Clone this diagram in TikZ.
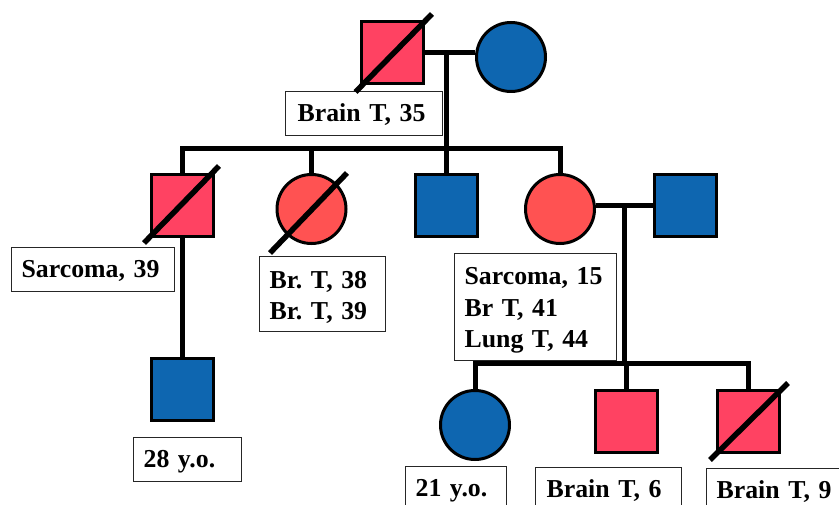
\documentclass[tikz,border=0pt]{standalone}
\usepackage{fontspec}
\setmainfont{Liberation Serif}
\definecolor{malesick}{RGB}{255,66,98}
\definecolor{femsick}{RGB}{255,82,82}
\definecolor{healthy}{RGB}{14,102,176}
\frenchspacing

\begin{document}
\begin{tikzpicture}[x=1pt,y=-1pt,
  conn/.style={line width=5pt},
  slash/.style={line width=5.5pt},
  male/.style={rectangle, draw, line width=3pt, minimum size=62pt, inner sep=0pt},
  female/.style={circle, draw, line width=3pt, minimum size=69pt, inner sep=0pt},
  note/.style={rectangle, draw=black!85, line width=1.2pt, fill=white,
    anchor=north west, inner xsep=10pt, inner ysep=0pt, align=left,
    font=\fontsize{25.8}{31.5}\selectfont\bfseries},
  oneline/.style={note, text height=19.5pt, text depth=4.5pt, minimum height=44pt}
]
\useasboundingbox (0,0) rectangle (839,505);
\clip (0,0) rectangle (839,505);

% generation I
\node[male, fill=malesick] (f1) at (392.5,52.5) {};
\node[female, fill=healthy] (m1) at (511,57) {};

% generation II
\node[male, fill=malesick] (s1) at (182,205.5) {};
\node[female, fill=femsick] (c2) at (311.5,209) {};
\node[male, fill=healthy] (s3) at (446,205.5) {};
\node[female, fill=femsick] (c4) at (560,209) {};
\node[male, fill=healthy] (s5) at (685.5,205.5) {};

% generation III
\node[male, fill=healthy] (s9) at (182,389.5) {};
\node[female, fill=healthy] (c6) at (475,425) {};
\node[male, fill=malesick] (s7) at (626.5,421.5) {};
\node[male, fill=malesick] (s8) at (748,421.5) {};

% helper levels for the sibship lines
\coordinate (g2) at (0,149);
\coordinate (g3) at (0,364);
\coordinate (d1) at (446,52.5);
\coordinate (d2) at (624,205.5);

% couples and descent lines
\draw[conn] (f1.east) -- (m1.west |- f1.east);
\draw[conn] (d1) -- (s3.north);
\draw[conn] (s1.north) -- (s1.north |- g2) -| (c4.north);
\draw[conn] (c2.north) -- (c2.north |- g2);
\draw[conn] (s5.west) -- (s5.west -| c4.east);
\draw[conn] (d2) -- (d2 |- g3);
\draw[conn] (c6.north) -- (c6.north |- g3) -| (s8.north);
\draw[conn] (s7.north) -- (s7.north |- g3);
\draw[conn] (s1.south) -- (s9.north);

% annotations
\node[oneline, inner xsep=12pt, text width=133pt] (b1) at (285,91) {Brain T, 35};
\node[oneline, text width=143pt] (b2) at (11,247) {Sarcoma, 39};
\node[note, text width=106pt, minimum height=75pt] (b3) at (259,256)
  {\rule{0pt}{24pt}Br. T, 38\\Br. T, 39};
\node[note, text width=142pt, minimum height=107pt] (b4) at (454,253)
  {\rule{0pt}{24pt}Sarcoma, 15\\Br T, 41\\Lung T, 44};
\node[oneline, text width=88pt] (b5) at (133,437) {28 y.o.};
\node[oneline, text width=81pt] (b6) at (405,466) {21 y.o.};
\node[oneline, inner xsep=11pt, text width=124pt] (b7) at (535,467) {Brain T, 6};
\node[oneline, text width=140pt] (b8) at (706,468) {Brain T, 9};

% deceased marks
\draw[slash] ([shift={(-37,39.5)}]f1.center) -- ([shift={(39.5,-38.5)}]f1.center);
\draw[slash] ([shift={(-38,37.5)}]s1.center) -- ([shift={(37,-39.5)}]s1.center);
\draw[slash] ([shift={(-41.5,44)}]c2.center) -- ([shift={(35.5,-36)}]c2.center);
\draw[slash] ([shift={(-38,38.5)}]s8.center) -- ([shift={(40,-38.5)}]s8.center);
\end{tikzpicture}
\end{document}
